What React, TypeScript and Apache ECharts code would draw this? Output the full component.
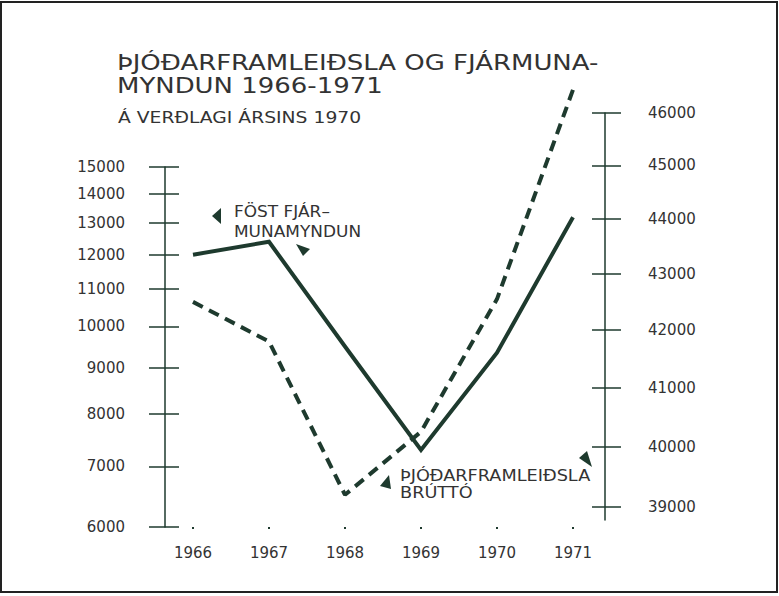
import React, { useEffect, useRef } from "react";
import * as echarts from "echarts";

const years = ["1966", "1967", "1968", "1969", "1970", "1971"];
// Föst fjármunamyndun (solid line, left axis, log scale)
const fixedCapital = [12000, 12400, 9500, 7300, 9350, 13200];
// Þjóðarframleiðsla brúttó (dashed line, right axis, log scale)
const gnp = [42500, 41800, 39200, 40250, 42550, 46450];
const leftTicks = [6000, 7000, 8000, 9000, 10000, 11000, 12000, 13000, 14000, 15000];
const rightTicks = [39000, 40000, 41000, 42000, 43000, 44000, 45000, 46000];

const INK = "#1e3a2e";
const TEXT = "#333";
const FONT = "DejaVu Sans";

const lg = (v: number) => Math.log10(v);
const fmt = (v: number) => String(Math.round(Math.pow(10, v) / 100) * 100);

const txt = (text: string, x: number, y: number, size: number, scaleX: number) => ({
  type: "text",
  x,
  y,
  scaleX,
  style: { text, fill: TEXT, font: `${size}px "${FONT}"`, verticalAlign: "middle", align: "left" },
});

export default function App() {
  const ref = useRef<HTMLDivElement>(null);
  useEffect(() => {
    if (!ref.current) return;
    const chart = echarts.init(ref.current, undefined, { renderer: "svg" });
    const L0 = lg(6000);
    const L1 = lg(15000);
    const R1 = lg(46000);
    const R0 = R1 - 407 / 5496;
    const leftLog = leftTicks.map(lg);
    const rightLog = rightTicks.map(lg);
    const labelStyle = { color: TEXT, fontFamily: FONT, fontSize: 15 };
    chart.setOption({
      animation: false,
      backgroundColor: "#fff",
      grid: [
        { left: 193, right: 206, top: 167, height: 360 },
        { left: 193, right: 206, top: 113, height: 407 },
      ],
      xAxis: [
        {
          type: "category",
          gridIndex: 0,
          data: years,
          boundaryGap: false,
          axisLine: { show: false },
          axisTick: { show: true, length: 2, lineStyle: { color: INK, width: 2 } },
          axisLabel: { ...labelStyle, margin: 18 },
          splitLine: { show: false },
        },
        {
          type: "category",
          gridIndex: 1,
          data: years,
          boundaryGap: false,
          show: false,
        },
      ],
      yAxis: [
        {
          type: "value",
          gridIndex: 0,
          position: "left",
          offset: 28,
          min: L0,
          max: L1,
          axisLine: { show: true, lineStyle: { color: INK, width: 1.5 } },
          axisTick: { show: true, length: 16, customValues: leftLog, lineStyle: { color: INK, width: 1.5 } },
          axisLabel: { ...labelStyle, margin: 40, customValues: leftLog, formatter: fmt },
          splitLine: { show: false },
        },
        {
          type: "value",
          gridIndex: 1,
          position: "right",
          offset: 32,
          min: R0,
          max: R1,
          axisLine: { show: true, lineStyle: { color: INK, width: 1.5 } },
          axisTick: { show: true, length: 16, customValues: rightLog, lineStyle: { color: INK, width: 1.5 } },
          axisLabel: { ...labelStyle, margin: 43, customValues: rightLog, formatter: fmt },
          splitLine: { show: false },
        },
        {
          type: "value",
          gridIndex: 0,
          position: "left",
          offset: 28,
          min: L0,
          max: L1,
          axisLine: { show: false },
          axisTick: { show: true, inside: true, length: 14, customValues: leftLog, lineStyle: { color: INK, width: 1.5 } },
          axisLabel: { show: false },
          splitLine: { show: false },
        },
        {
          type: "value",
          gridIndex: 1,
          position: "right",
          offset: 32,
          min: R0,
          max: R1,
          axisLine: { show: false },
          axisTick: { show: true, inside: true, length: 13, customValues: rightLog, lineStyle: { color: INK, width: 1.5 } },
          axisLabel: { show: false },
          splitLine: { show: false },
        },
      ],
      series: [
        {
          name: "Föst fjármunamyndun",
          type: "line",
          xAxisIndex: 0,
          yAxisIndex: 0,
          data: fixedCapital.map(lg),
          symbol: "none",
          clip: false,
          lineStyle: { color: INK, width: 4, join: "miter" },
        },
        {
          name: "Þjóðarframleiðsla brúttó",
          type: "line",
          xAxisIndex: 1,
          yAxisIndex: 1,
          data: gnp.map(lg),
          symbol: "none",
          clip: false,
          lineStyle: { color: INK, width: 4, type: [11, 7] },
        },
      ],
      graphic: [
        {
          type: "rect",
          shape: { x: 1, y: 2, width: 776, height: 590 },
          style: { fill: "none", stroke: "#222", lineWidth: 2 },
          silent: true,
        },
        txt("ÞJÓÐARFRAMLEIÐSLA OG FJÁRMUNA-", 117, 63, 22, 1.18),
        txt("MYNDUN 1966-1971", 117, 86, 22, 1.18),
        txt("Á VERÐLAGI ÁRSINS 1970", 118, 118, 15, 1.25),
        txt("FÖST FJÁR–", 234, 212, 15, 1.13),
        txt("MUNAMYNDUN", 234, 232, 15, 1.13),
        txt("ÞJÓÐARFRAMLEIÐSLA", 400, 476, 15, 1.18),
        txt("BRÚTTÓ", 400, 493, 15, 1.18),
        {
          type: "polygon",
          shape: { points: [[212, 216], [221, 208], [221, 224]] },
          style: { fill: INK },
        },
        {
          type: "polygon",
          shape: { points: [[296, 244], [310, 249], [303, 256]] },
          style: { fill: INK },
        },
        {
          type: "polygon",
          shape: { points: [[389, 475], [380, 486], [391, 489]] },
          style: { fill: INK },
        },
        {
          type: "polygon",
          shape: { points: [[592, 467], [579, 458], [587, 451]] },
          style: { fill: INK },
        },
      ],
    });
    return () => chart.dispose();
  }, []);
  return (
    <div
      ref={ref}
      style={{ position: "fixed", left: 0, top: 0, width: 779, height: 596, background: "#fff" }}
    />
  );
}
